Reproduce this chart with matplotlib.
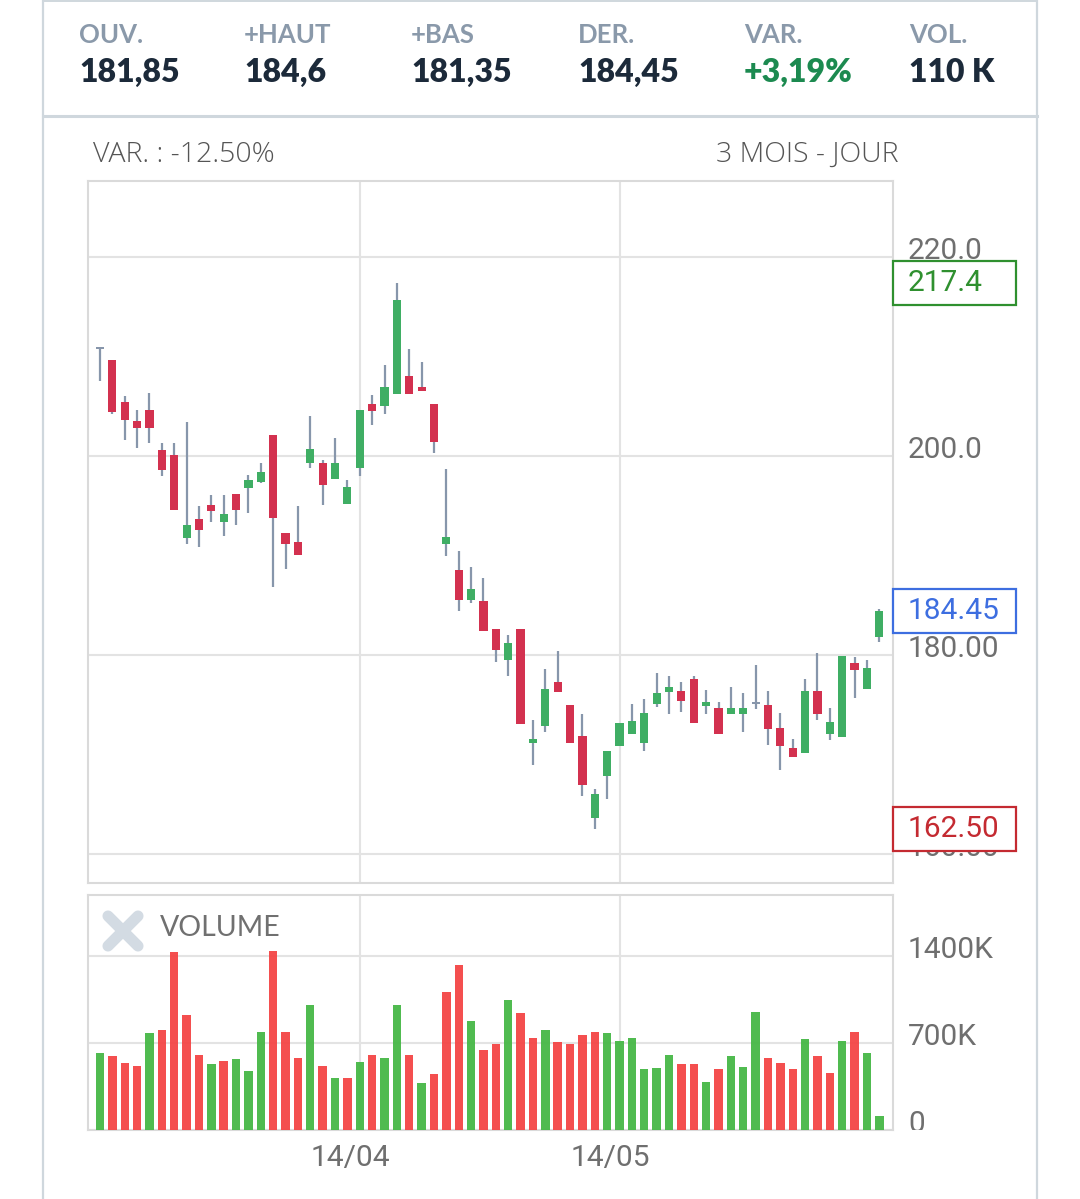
import matplotlib
matplotlib.use("Agg")
import matplotlib.pyplot as plt
from matplotlib.transforms import offset_copy, Bbox, TransformedBbox
from matplotlib.patches import Rectangle
from matplotlib.lines import Line2D
import numpy as np

# ---------------- DATA ----------------
header_labels = ["OUV.", "+HAUT", "+BAS", "DER.", "VAR.", "VOL."]
header_values = ["181,85", "184,6", "181,35", "184,45", "+3,19%", "110 K"]

opens = [210.8, 209.7, 205.4, 203.5, 204.6, 200.6, 200.1, 191.8, 193.7, 195.1,
         193.4, 196.2, 196.8, 197.4, 202.1, 192.3, 191.4, 199.3, 199.3, 197.7,
         195.2, 198.8, 205.2, 205.0, 206.2, 208.0, 206.9, 205.2, 191.2, 188.5,
         185.5, 185.4, 182.6, 179.5, 182.6, 171.2, 172.9, 177.3, 175.0, 171.9,
         163.6, 167.8, 170.9, 172.1, 171.2, 175.1, 176.25, 176.4, 177.6, 174.9,
         174.7, 174.1, 174.1, 175.1, 175.0, 172.7, 170.7, 170.2, 176.4, 172.1,
         171.8, 179.2, 176.6, 181.85]
highs = [210.9, 209.7, 206.0, 204.6, 206.3, 201.3, 201.3, 203.4, 195.0, 196.1,
         196.1, 196.2, 198.1, 199.3, 202.1, 192.3, 195.0, 204.0, 199.6, 201.8,
         197.6, 204.6, 206.1, 209.1, 217.4, 210.8, 209.4, 205.2, 198.7, 190.5,
         188.8, 187.7, 182.6, 182.0, 182.6, 173.5, 178.6, 180.4, 175.0, 174.1,
         166.5, 170.4, 173.2, 175.1, 175.6, 178.2, 177.9, 177.25, 177.85, 176.5,
         175.3, 176.75, 176.2, 179.0, 176.4, 174.2, 171.6, 177.6, 180.2, 174.7,
         179.9, 179.8, 179.5, 184.6]
lows = [207.5, 204.2, 201.6, 200.8, 201.3, 198.0, 194.6, 191.2, 190.9, 193.4,
        192.0, 193.1, 194.3, 197.3, 186.8, 188.6, 190.1, 198.8, 195.1, 197.7,
        195.2, 198.0, 203.1, 204.2, 206.2, 206.2, 206.5, 200.3, 190.0, 184.4,
        185.2, 182.4, 179.3, 177.9, 173.1, 168.9, 172.3, 176.3, 171.2, 165.8,
        162.5, 165.5, 170.9, 172.1, 170.4, 174.8, 174.1, 174.3, 173.2, 174.1,
        172.1, 174.1, 172.3, 174.6, 171.0, 168.4, 169.8, 170.2, 173.5, 171.5,
        171.8, 175.7, 176.6, 181.35]
closes = [210.9, 204.4, 203.6, 202.8, 202.8, 198.6, 194.6, 193.1, 192.6, 194.5,
          194.2, 194.6, 197.6, 198.4, 193.8, 191.2, 190.1, 200.7, 197.1, 199.3,
          196.9, 204.6, 204.5, 206.9, 215.7, 206.2, 206.5, 201.4, 191.9, 185.5,
          186.6, 182.4, 180.5, 181.2, 173.1, 171.6, 176.6, 176.3, 171.2, 166.9,
          166.0, 170.4, 173.2, 173.4, 174.2, 176.2, 176.75, 175.4, 173.2, 175.3,
          172.1, 174.7, 174.7, 175.2, 172.6, 170.9, 169.8, 176.4, 174.1, 173.3,
          179.9, 178.5, 178.7, 184.45]

volumes_k = [622, 596, 540, 515, 781, 805, 1433, 926, 604, 531,
             555, 571, 475, 789, 1441, 789, 580, 1006, 515, 418,
             418, 547, 604, 580, 1006, 604, 378, 451, 1111, 1328,
             877, 644, 692, 1047, 942, 740, 805, 708, 692, 765,
             789, 781, 716, 740, 491, 499, 604, 531, 531, 386,
             491, 596, 507, 950, 580, 540, 491, 732, 596, 459,
             716, 789, 620, 110]
volume_up = "GRRRGRRRRGRGGGRRRGRGRGRGGRGRRRGRRGRRGRRRRGGGGGGRRGRGGGRRRGRRGRGG"

date_ticks = [21, 42]
date_labels = ["14/04", "14/05"]
price_ticks = [160, 180, 200, 220]
price_tick_labels = ["160.00", "180.00", "200.0", "220.0"]
vol_ticks = [0, 700, 1400]
vol_tick_labels = ["0", "700K", "1400K"]

period_var = "VAR. : -12.50%"
period_name = "3 MOIS - JOUR"
marks = [(217.4, "217.4", "#2f902f"),
         (184.45, "184.45", "#3d6ee0"),
         (162.50, "162.50", "#c42a31")]

# ---------------- STYLE ----------------
W, H = 1080, 1199
DPI = 100
fig = plt.figure(figsize=(W / DPI, H / DPI), dpi=DPI)
fig.patch.set_facecolor("white")

def fx(x):
    return x / W

def fy(y):
    return 1 - y / H

GRID = "#e3e3e3"
SPINE = "#dadada"
FRAME = "#cfd7dd"
TICK = "#6f6f6f"
WICK = "#8796ab"
C_RED = "#d3314f"
C_GREEN = "#3fae64"
V_RED = "#f44545"
V_GREEN = "#46b846"
TFS = 21.5

# outer frame
for x in (43, 1037):
    fig.add_artist(Line2D([fx(x), fx(x)], [0, 1], color=FRAME, lw=1.6))
fig.add_artist(Line2D([fx(43), fx(1037)], [fy(116), fy(116)], color=FRAME, lw=2.2))
fig.add_artist(Line2D([fx(43), fx(1037)], [fy(1), fy(1)], color=FRAME, lw=1.4))

# header
col_x = [79, 244, 411, 578, 744, 909]
for i, (lab, val) in enumerate(zip(header_labels, header_values)):
    fig.text(fx(col_x[i]), fy(35), lab, fontsize=18.5, fontweight="bold",
             family="Lato", color="#8a99aa", ha="left", va="center")
    vcol = "#1c8a50" if val.startswith("+") and "%" in val else "#1c2a3a"
    fig.text(fx(col_x[i]), fy(72), val, fontsize=23, fontweight="heavy",
             family="Lato", color=vcol, ha="left", va="center")

fig.text(fx(93), fy(155), period_var, fontsize=20.5, family="Open Sans",
         fontweight="light", color="#555555", ha="left", va="center")
fig.text(fx(898), fy(155), period_name, fontsize=20.5, family="Open Sans",
         fontweight="light", color="#555555", ha="right", va="center")

# ---------------- PRICE AXES ----------------
L, R = 88, 893
x0 = 100.0
step = 12.37
xlim = ((L - x0) / step, (R - x0) / step)

ax = fig.add_axes([fx(L), fy(883), fx(R) - fx(L), (883 - 181) / H])
ax.set_xlim(*xlim)
ax.set_ylim(157.09, 227.64)
n = len(opens)
idx = np.arange(n)
o = np.array(opens); c = np.array(closes); h = np.array(highs); l = np.array(lows)

ax.set_yticks(price_ticks)
ax.set_xticks(date_ticks)
ax.grid(True, color=GRID, lw=1.5, zorder=0)
ax.tick_params(length=0, labelleft=False, labelbottom=False)
for s in ax.spines.values():
    s.set_color(SPINE); s.set_linewidth(1.5)

ax.vlines(idx, l, h, color=WICK, lw=1.6, zorder=2)
body_col = []
for oo, cc in zip(o, c):
    if abs(cc - oo) < 0.2:
        body_col.append(WICK)
    elif cc > oo:
        body_col.append(C_GREEN)
    else:
        body_col.append(C_RED)
bottoms = np.minimum(o, c)
heights = np.maximum(np.abs(c - o), 0.2)
ax.bar(idx, heights, bottom=bottoms, width=0.66, color=body_col, zorder=3, lw=0)

# right tick labels
tr = offset_copy(ax.get_yaxis_transform(), fig=fig, x=15, y=6, units="dots")
for v, t in zip(price_ticks, price_tick_labels):
    ax.text(1, v, t, transform=tr, ha="left", va="center", fontsize=TFS,
            family="Roboto", color=TICK, clip_on=False)

# marker boxes (figure level, drawn over the tick labels)
x_disp = ax.transAxes.transform((1, 0))[0]
for val, lab, col in marks:
    y_disp = ax.transData.transform((0, val))[1]
    box = Rectangle((x_disp, y_disp - 22), 123, 44, transform=None,
                    facecolor="white", edgecolor=col, lw=1.6, zorder=10)
    fig.add_artist(box)
    fig.text(1, val, lab,
             transform=offset_copy(ax.get_yaxis_transform(), fig=fig, x=15, y=0, units="dots"),
             ha="left", va="center", fontsize=TFS, family="Roboto",
             color=col, zorder=11)

# ---------------- VOLUME AXES ----------------
axv = fig.add_axes([fx(L), fy(1130), fx(R) - fx(L), (1130 - 895) / H])
axv.set_xlim(*xlim)
axv.set_ylim(0, 1891)
axv.set_yticks(vol_ticks)
axv.set_xticks(date_ticks)
axv.grid(True, color=GRID, lw=1.5, zorder=0)
axv.tick_params(length=0, labelleft=False, labelbottom=False)
for s in axv.spines.values():
    s.set_color(SPINE); s.set_linewidth(1.5)
vcols = [V_GREEN if u == "G" else V_RED for u in volume_up]
axv.bar(idx, volumes_k, width=0.68, color=vcols, zorder=3, lw=0, alpha=0.95)

trv = offset_copy(axv.get_yaxis_transform(), fig=fig, x=15, y=6, units="dots")
clipbox = TransformedBbox(Bbox([[0, 0], [1.5, 1.2]]), axv.transAxes)
for v, t in zip(vol_ticks, vol_tick_labels):
    tt = axv.text(1, v, t, transform=trv, ha="left", va="center", fontsize=TFS,
                  family="Roboto", color=TICK, clip_on=True)
    tt.set_clip_box(clipbox)

# VOLUME label with X icon
cx, cy, r = 123, 931, 15
for dx in (-1, 1):
    fig.add_artist(Line2D([fx(cx - r), fx(cx + r)], [fy(cy - dx * r), fy(cy + dx * r)],
                          color="#d3dbe3", lw=8, solid_capstyle="round"))
fig.text(fx(160), fy(928), "VOLUME", fontsize=20.5, family="Lato",
         color="#707070", ha="left", va="center")

# date labels
for p, t in zip(date_ticks, date_labels):
    axv.text(p, 0, t, transform=offset_copy(axv.get_xaxis_transform(), fig=fig,
             x=-9, y=-(1158 - 1130), units="dots"),
             ha="center", va="center", fontsize=TFS, family="Roboto",
             color=TICK, clip_on=False)

fig.savefig("out.png", dpi=DPI, facecolor="white")
